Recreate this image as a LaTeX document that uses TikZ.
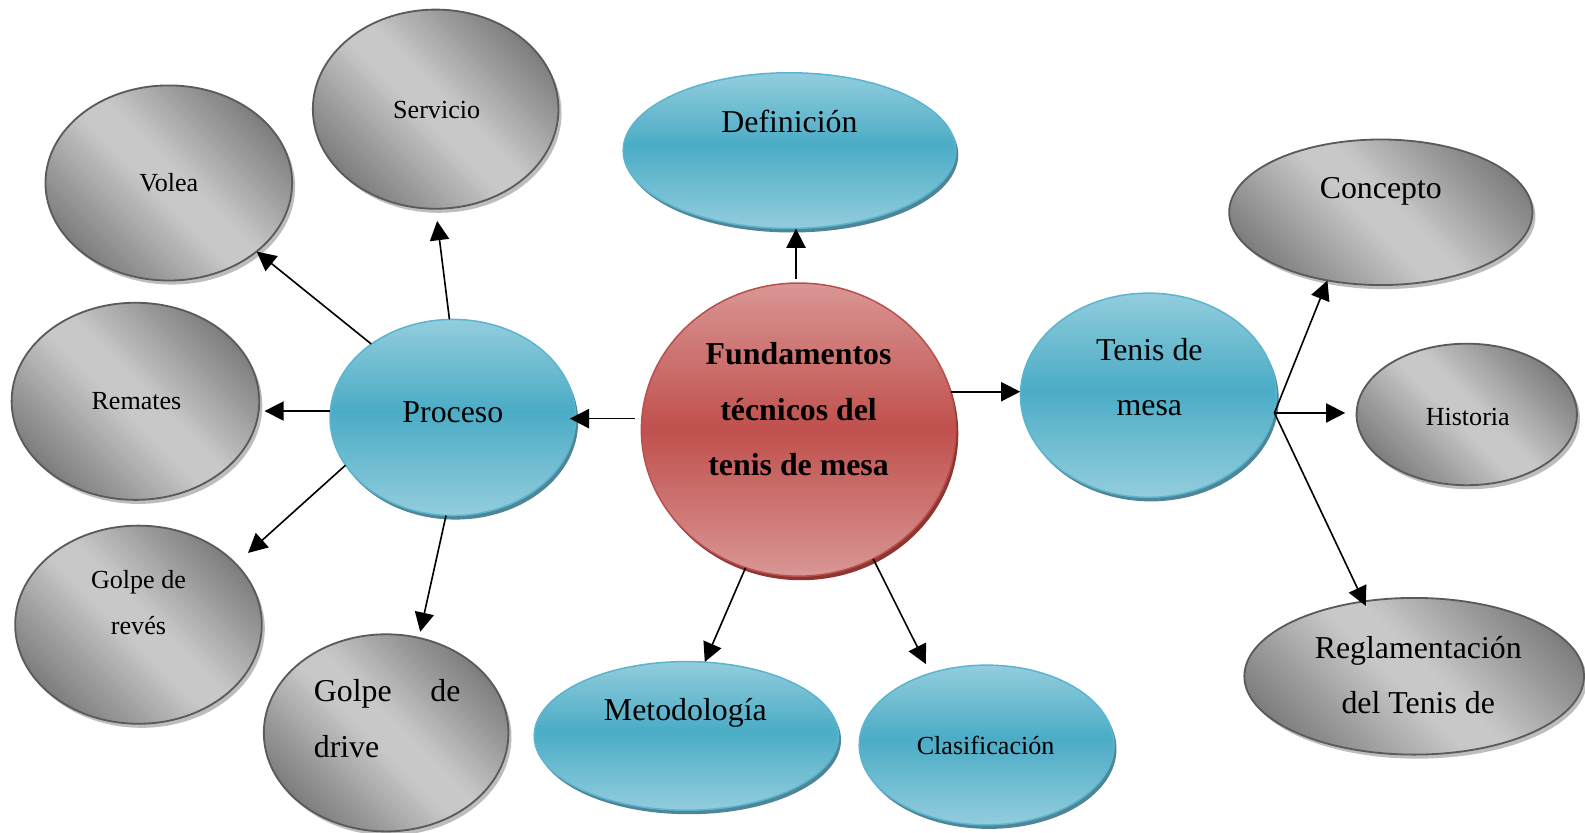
\documentclass[tikz,border=0pt]{standalone}
\usepackage{fontspec}
\setmainfont{Liberation Serif}
\usetikzlibrary{shapes.geometric,arrows.meta,shadows,calc}
\definecolor{gdark}{HTML}{7C7C7C}
\definecolor{glight}{HTML}{C8C8C8}
\definecolor{gborder}{HTML}{5A5A5A}
\definecolor{gshadow}{HTML}{BDBDBD}
\definecolor{blight}{HTML}{93CDDD}
\definecolor{bmid}{HTML}{4BACC6}
\definecolor{bborder}{HTML}{5BB5CE}
\definecolor{bshadow}{HTML}{4E8597}
\definecolor{rlight}{HTML}{D99795}
\definecolor{rmid}{HTML}{C0504D}
\definecolor{rborder}{HTML}{B9504D}
\definecolor{rshadow}{HTML}{8E3431}
\tikzset{
  smalltxt/.style={font=\fontsize{25.8}{45}\selectfont, align=center, inner sep=0pt},
  bigtxt/.style={font=\fontsize{31.5}{55}\selectfont, align=center, inner sep=0pt},
  conn/.style={line width=1.6pt, -{Triangle[length=19pt,width=19pt]}},
}
% vertical gradient ellipse: name, pos, rx, ry, endcol, midcol, border, shadow, midpos
\newcommand\vgradE[9]{%
  \node[ellipse, inner sep=0pt, minimum width={2*#3 pt}, minimum height={2*#4 pt}, fill=#6,
        drop shadow={shadow xshift=2.5pt, shadow yshift=-4pt, fill=#8, opacity=1}] (#1) at #2 {};
  \begin{scope}
    \clip (#1.center) ellipse [x radius=#3, y radius=#4];
    \pgfmathsetmacro\gh{2*#4/60}
    \foreach \k in {0,...,59}{
      \pgfmathsetmacro\gt{(\k+0.5)/60}
      \pgfmathtruncatemacro\gp{\gt<#9 ? 100*(#9-\gt)/#9 : 100*(\gt-#9)/(1-#9)}
      \pgfmathsetmacro\ga{-#4+\k*\gh}
      \pgfmathsetmacro\gb{-#4+(\k+1)*\gh+1}
      \fill[#5!\gp!#6] ([shift={({-#3-2},\ga)}]#1.center) rectangle ([shift={({#3+2},\gb)}]#1.center);
    }
  \end{scope}
  \draw[#7, line width=1.5pt] (#1.center) ellipse [x radius=#3, y radius=#4];
}
% diagonal gradient grey ellipse: name, pos, rx, ry
\newcommand\dgradE[4]{%
  \node[ellipse, inner sep=0pt, minimum width={2*#3 pt}, minimum height={2*#4 pt}, fill=glight,
        drop shadow={shadow xshift=3pt, shadow yshift=-4pt, fill=gshadow, opacity=1}] (#1) at #2 {};
  \begin{scope}
    \clip (#1.center) ellipse [x radius=#3, y radius=#4];
    \pgfmathsetmacro\gD{10*sqrt(((#3/10)^2+(#4/10)^2)/2)}
    \pgfmathsetmacro\gh{2*\gD/60}
    \begin{scope}[shift={(#1.center)}, rotate=-45]
      \foreach \k in {0,...,59}{
        \pgfmathsetmacro\gt{(\k+0.5)/60}
        \pgfmathtruncatemacro\gp{100*max(0,abs(2*\gt-1)-0.12)/0.88}
        \pgfmathsetmacro\ga{-\gD+\k*\gh}
        \pgfmathsetmacro\gb{-\gD+(\k+1)*\gh+1}
        \fill[gdark!\gp!glight] ({-2*\gD},\ga) rectangle ({2*\gD},\gb);
      }
    \end{scope}
  \end{scope}
  \draw[gborder, line width=1.8pt] (#1.center) ellipse [x radius=#3, y radius=#4];
}
\begin{document}
\begin{tikzpicture}[x=1pt,y=-1pt]
\useasboundingbox (0,0) rectangle (1568,824);
\fill[white] (0,0) rectangle (1568,824);
% ellipses
\dgradE{serv}{(431,108)}{121.5}{98.5}
\dgradE{volea}{(167,181)}{122}{96.5}
\dgradE{remates}{(134,397)}{122.5}{97.5}
\dgradE{reves}{(137,618)}{122}{98}
\dgradE{drive}{(382,725)}{121}{97.5}
\vgradE{proceso}{(448,413)}{121.5}{97}{blight}{bmid}{bborder}{bshadow}{0.47}
\vgradE{fund}{(790,425)}{155.5}{145}{rlight}{rmid}{rborder}{rshadow}{0.5}
\vgradE{defin}{(781,149)}{164.5}{77}{blight}{bmid}{bborder}{bshadow}{0.47}
\vgradE{tenis}{(1136,391)}{126.5}{101}{blight}{bmid}{bborder}{bshadow}{0.47}
\dgradE{concepto}{(1366,210)}{150}{72}
\dgradE{historia}{(1451,410)}{109}{70}
\dgradE{regla}{(1399,669)}{168}{77.5}
\vgradE{metod}{(679,728)}{150.5}{73.5}{blight}{bmid}{bborder}{bshadow}{0.47}
\vgradE{clasif}{(976,737)}{126}{79}{blight}{bmid}{bborder}{bshadow}{0.47}
% texts
\node[smalltxt] (tserv) at (432,109) {Servicio};
\node[smalltxt] (tvolea) at (167,181) {Volea};
\node[smalltxt] (trem) at (135,397) {Remates};
\node[smalltxt] (treves) at (137,596) {Golpe de\\revés};
\node[bigtxt, align=left, text width=145pt] (tdrive) at (383,711) {\makebox[145pt][s]{Golpe\hfill de}\\drive};
\node[bigtxt] (tproc) at (448,408) {Proceso};
\node[bigtxt, font=\fontsize{31.5}{55}\selectfont\bfseries] (tfund) at (790,405) {Fundamentos\\técnicos del\\tenis de mesa};
\node[bigtxt] (tdefin) at (781,120) {Definición};
\node[bigtxt] (ttenis) at (1137,373) {Tenis de\\mesa};
\node[bigtxt] (tconc) at (1366,189) {Concepto};
\node[smalltxt] (thist) at (1452,413) {Historia};
\node[bigtxt] (tregla) at (1403,668) {Reglamentación\\del Tenis de};
\node[bigtxt] (tmetod) at (678,705) {Metodología};
\node[smalltxt] (tclas) at (975,737) {Clasificación};
% connectors
\draw[conn, shorten <=4pt] (fund.91) -- (fund.91 |- defin.south);
\draw[conn, shorten <=7pt, shorten >=-6pt] (fund.176) -- (fund.176 -| proceso.east);
\draw[conn] (fund.14) -- (fund.14 -| tenis.west);
\draw[conn] (fund.249) -- (metod.76);
\draw[conn, shorten >=10pt] (fund.300) -- (clasif.128);
\draw[conn, shorten >=12pt] (proceso.92) -- (serv.south);
\draw[conn] (proceso.138) -- (volea.-38);
\draw[conn, shorten >=5pt] (proceso.177) -- (proceso.177 -| remates.east);
\draw[conn, shorten >=16pt] (proceso.204) -- (reves.32);
\draw[conn, shorten >=6pt] (proceso.266) -- (drive.71);
\draw[conn] (tenis.-8) -- (concepto.232);
\draw[conn, shorten >=11pt] (tenis.-8) -- (tenis.-8 -| historia.west);
\draw[conn, shorten >=-5pt] (tenis.-8) -- (regla.124);
\end{tikzpicture}
\end{document}
